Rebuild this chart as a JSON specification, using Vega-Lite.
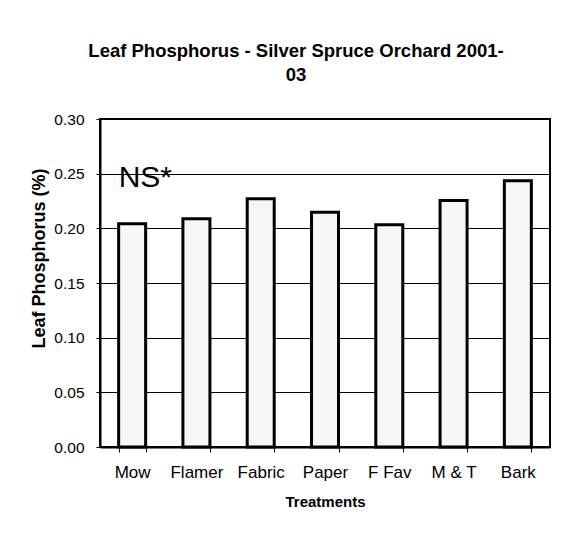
{
  "$schema": "https://vega.github.io/schema/vega-lite/v6.json",
  "width": 450,
  "height": 328,
  "autosize": {"type": "none"},
  "padding": {"left": 100, "top": 119, "right": 23, "bottom": 88},
  "background": "white",
  "config": {
    "font": "Liberation Sans",
    "view": {"stroke": "black", "strokeWidth": 2}
  },
  "title": {
    "text": ["Leaf Phosphorus - Silver Spruce Orchard 2001-", "03"],
    "font": "Liberation Sans",
    "fontSize": 18.5,
    "fontWeight": "bold",
    "color": "black",
    "anchor": "middle",
    "frame": "group",
    "dx": -29,
    "offset": 28,
    "lineHeight": 24
  },
  "data": {
    "values": [
      {"Treatment": "Mow", "P": 0.2041},
      {"Treatment": "Flamer", "P": 0.2087},
      {"Treatment": "Fabric", "P": 0.2270},
      {"Treatment": "Paper", "P": 0.2148},
      {"Treatment": "F Fav", "P": 0.2032},
      {"Treatment": "M & T", "P": 0.2255},
      {"Treatment": "Bark", "P": 0.2435}
    ]
  },
  "layer": [
    {
      "mark": {"type": "bar", "fill": "#f6f6f6", "stroke": "black", "strokeWidth": 3},
      "encoding": {
        "x": {
          "field": "Treatment",
          "type": "nominal",
          "sort": null,
          "scale": {"paddingInner": 0.58, "paddingOuter": 0.29},
          "axis": {
            "title": "Treatments",
            "titleFontSize": 15,
            "titleFontWeight": "bold",
            "titleColor": "black",
            "titlePadding": 14,
            "labelAngle": 0,
            "labelFontSize": 17,
            "labelColor": "black",
            "labelPadding": 12,
            "tickBand": "extent",
            "tickColor": "black",
            "tickSize": 5,
            "domainColor": "black",
            "domainWidth": 2
          }
        },
        "y": {
          "field": "P",
          "type": "quantitative",
          "scale": {"domain": [0, 0.3], "nice": false},
          "axis": {
            "title": "Leaf Phosphorus (%)",
            "titleFontSize": 18,
            "titleFontWeight": "bold",
            "titleColor": "black",
            "titleX": -61,
            "titleY": 139,
            "titleAlign": "center",
            "titleBaseline": "middle",
            "titleAngle": -90,
            "values": [0, 0.05, 0.1, 0.15, 0.2, 0.25, 0.3],
            "format": ".2f",
            "labelFontSize": 15.5,
            "labelColor": "black",
            "labelPadding": 12,
            "tickColor": "black",
            "tickSize": 4,
            "domainColor": "black",
            "domainWidth": 2,
            "grid": true,
            "gridColor": "black",
            "gridWidth": 1
          }
        }
      }
    },
    {
      "data": {"values": [{"Treatment": "Mow", "P": 0.238, "label": "NS*"}]},
      "mark": {"type": "text", "align": "left", "baseline": "alphabetic", "fontSize": 30, "color": "black"},
      "encoding": {
        "x": {"field": "Treatment", "type": "nominal", "sort": null, "bandPosition": 0},
        "y": {"field": "P", "type": "quantitative"},
        "text": {"field": "label"}
      }
    }
  ]
}
